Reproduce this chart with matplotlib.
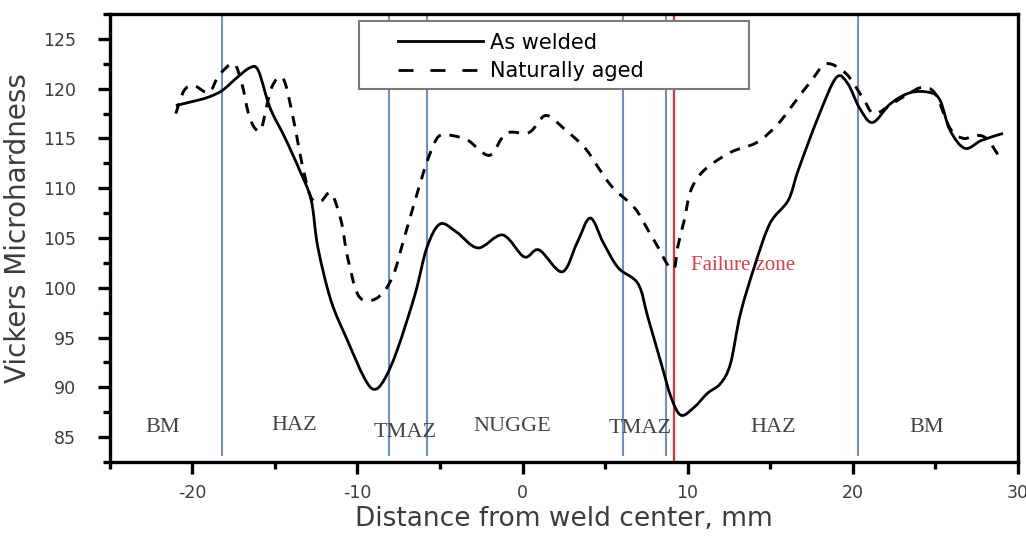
import matplotlib.pyplot as plt
from matplotlib.lines import Line2D
from matplotlib.patches import Rectangle, PathPatch
from matplotlib.path import Path
from matplotlib.ticker import MultipleLocator

# values
as_welded_x = [-21.0, -20.0, -19.1, -18.2, -17.3, -16.5, -16.0, -15.3, -14.4, -13.5,
               -12.8, -12.4, -11.6, -10.6, -9.6, -9.0, -8.4, -7.6, -6.5, -5.8,
               -5.0, -4.0, -2.7, -1.2, 0.1, 1.0, 2.4, 3.3, 4.1, 4.9,
               5.8, 7.0, 7.6, 8.4, 9.0, 9.6, 10.4, 11.2, 12.0, 12.6,
               13.2, 14.1, 15.0, 16.1, 16.7, 17.9, 19.0, 19.7, 20.4, 21.2,
               22.3, 23.5, 24.7, 25.3, 25.9, 26.8, 27.8, 29.1]
as_welded_y = [118.3, 118.7, 119.1, 119.8, 121.1, 122.1, 121.8, 118.1, 115.1, 111.8,
               108.8, 104.1, 98.7, 94.7, 91.0, 89.8, 90.7, 93.7, 99.4, 104.0,
               106.4, 105.6, 104.0, 105.3, 103.1, 103.8, 101.6, 104.5, 107.0, 104.5,
               102.0, 100.4, 97.0, 92.4, 89.0, 87.2, 88.0, 89.4, 90.4, 92.4,
               97.4, 102.4, 106.5, 108.8, 111.8, 117.1, 121.1, 120.5, 118.1, 116.6,
               118.5, 119.6, 119.6, 118.8, 115.8, 114.0, 114.8, 115.5]

aged_x = [-21.0, -20.5, -19.9, -19.0, -18.4, -17.5, -17.0, -16.6, -16.2, -15.8,
          -15.2, -14.5, -13.9, -13.4, -13.0, -12.7, -12.2, -11.6, -11.0, -10.6,
          -10.0, -9.3, -8.5, -7.8, -7.2, -6.5, -5.9, -5.4, -5.0, -4.3,
          -3.3, -2.0, -1.0, 0.4, 1.4, 2.5, 3.8, 4.7, 5.5, 6.8,
          7.6, 8.2, 8.8, 9.2, 9.4, 9.8, 10.2, 11.0, 12.6, 14.2,
          15.5, 16.7, 17.5, 18.4, 19.6, 20.6, 21.3, 22.5, 23.5, 24.2,
          25.0, 25.9, 26.7, 27.4, 28.1, 28.9]
aged_y = [117.5, 119.8, 120.3, 119.6, 121.3, 122.5, 120.5, 117.5, 116.0, 116.1,
          120.1, 121.0, 117.1, 112.8, 110.0, 108.8, 108.7, 109.5, 106.8, 103.1,
          99.4, 98.7, 99.4, 101.4, 104.8, 108.8, 112.1, 114.3, 115.3, 115.3,
          114.8, 113.3, 115.5, 115.6, 117.3, 116.0, 114.0, 111.8, 110.0, 108.0,
          105.8, 104.1, 102.3, 102.0, 104.1, 106.8, 109.8, 111.8, 113.6, 114.6,
          116.5, 119.1, 120.8, 122.5, 121.5, 119.1, 117.5, 118.6, 119.6, 120.1,
          119.5, 116.0, 115.0, 115.3, 115.0, 113.1]

zone_bounds = [-18.2, -8.1, -5.8, 6.1, 8.7, 20.3]
failure_x = 9.15
zone_names = ['BM', 'HAZ', 'TMAZ', 'NUGGE', 'TMAZ', 'HAZ', 'BM']
zone_pos = [(-21.8, 86.0), (-13.8, 86.2), (-7.1, 85.5), (-0.6, 86.1),
            (7.15, 85.9), (15.2, 86.0), (24.5, 86.0)]


def spline_path(xs, ys):
    # smooth (Catmull-Rom style) connection through the measured points, as in Origin
    pts = list(zip(xs, ys))
    n = len(pts)
    verts = [pts[0]]
    codes = [Path.MOVETO]
    for i in range(n - 1):
        p0, p1 = pts[max(i - 1, 0)], pts[i]
        p2, p3 = pts[i + 1], pts[min(i + 2, n - 1)]
        c1 = (p1[0] + (p2[0] - p0[0]) / 6, p1[1] + (p2[1] - p0[1]) / 6)
        c2 = (p2[0] - (p3[0] - p1[0]) / 6, p2[1] - (p3[1] - p1[1]) / 6)
        verts += [c1, c2, p2]
        codes += [Path.CURVE4] * 3
    return Path(verts, codes)


plt.rcParams['font.family'] = 'DejaVu Sans'
plt.rcParams['axes.unicode_minus'] = False
grey = '#3c3c3c'

fig = plt.figure(figsize=(10.26, 5.36), dpi=100)
ax = fig.add_axes([0.107, 0.138, 0.885, 0.836])

for xb in zone_bounds:
    ax.axvline(xb, ymin=0.016, ymax=1, color='#7090c8', lw=1.5, zorder=1)
ax.axvline(failure_x, ymin=0, ymax=1, color='#e0303c', lw=1.6, zorder=1)

ax.add_patch(PathPatch(spline_path(as_welded_x, as_welded_y), fill=False,
                       edgecolor='black', lw=2.0, zorder=3))
ax.add_patch(PathPatch(spline_path(aged_x, aged_y), fill=False, edgecolor='black',
                       lw=2.1, linestyle=(0, (3.6, 3.0)), zorder=3))

for name, (zx, zy) in zip(zone_names, zone_pos):
    ax.text(zx, zy, name, family='Liberation Serif', fontsize=16, color='#444444',
            ha='center', va='center', zorder=2)
ax.text(10.2, 102.2, 'Failure zone', family='Liberation Serif', fontsize=15,
        color='#d8404c', ha='left', va='center', zorder=2)

ax.set_xlim(-25, 30)
ax.set_ylim(82.5, 127.5)
ax.xaxis.set_major_locator(MultipleLocator(10))
ax.xaxis.set_minor_locator(MultipleLocator(5))
ax.yaxis.set_minor_locator(MultipleLocator(2.5))
ax.set_yticks(range(85, 126, 5))

for s in ax.spines.values():
    s.set_linewidth(2.4)
ax.tick_params(axis='both', which='major', direction='out', length=8.5, width=2.4,
               labelsize=12.5, labelcolor=grey)
ax.tick_params(axis='both', which='minor', direction='out', length=5, width=2.4)
ax.tick_params(axis='y', which='major', pad=16)
ax.tick_params(axis='x', which='major', pad=7)

ax.set_xlabel('Distance from weld center, mm', fontsize=19, color=grey, labelpad=3)
ax.set_ylabel('Vickers Microhardness', fontsize=20, color=grey)
ax.yaxis.set_label_coords(-0.086, 0.522)

# legend frame drawn separately so it can be as wide as in the original
ax.add_patch(Rectangle((0.274, 0.833), 0.43, 0.151, transform=ax.transAxes,
                       facecolor='white', edgecolor='#7a7a7a', lw=1.5, zorder=4))
handles = [Line2D([], [], color='black', lw=2.0),
           Line2D([], [], color='black', lw=2.0, dashes=(5.4, 6.1))]
ax.legend(handles, ['As welded', 'Naturally aged'], loc='upper left',
          bbox_to_anchor=(0.317, 0.958), borderaxespad=0, borderpad=0,
          frameon=False, fontsize=15, handlelength=4.1, handletextpad=0.35,
          labelspacing=0.4).set_zorder(5)

fig.savefig('out.png', dpi=100)
